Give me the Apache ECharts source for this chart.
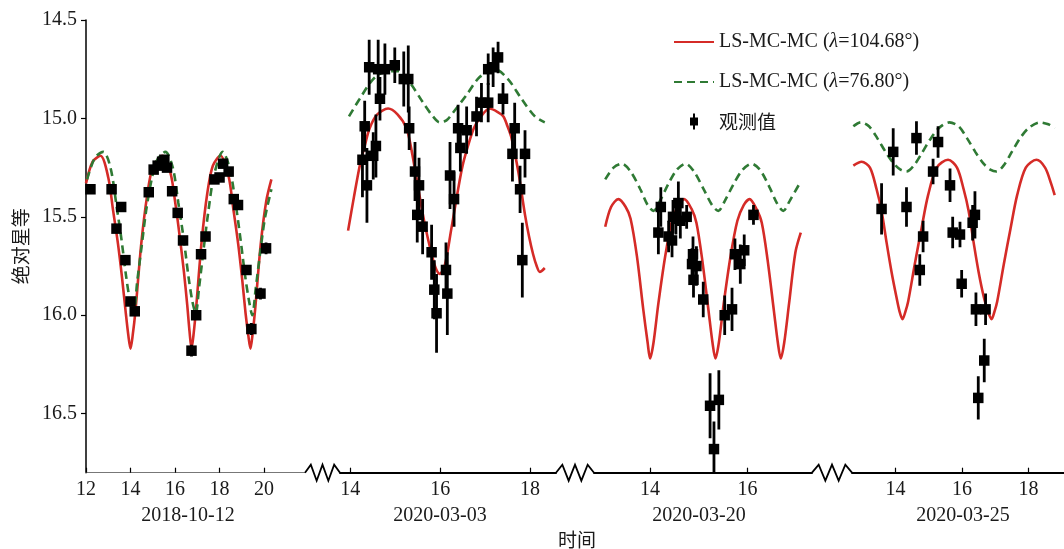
<!DOCTYPE html>
<html><head><meta charset="utf-8">
<script src="https://cdn.jsdelivr.net/npm/echarts@6/dist/echarts.min.js"></script>
<style>html,body{margin:0;padding:0;background:#fff}#c{width:1064px;height:549px}</style>
</head><body><div id="c"></div>
<script>
// ---------- data ----------
const PANEL_DATES = ['2018-10-12', '2020-03-03', '2020-03-20', '2020-03-25'];
const PANEL_TICKS = [[12, 14, 16, 18, 20], [14, 16, 18], [14, 16], [14, 16, 18]];
const PANEL_RANGES = [[12, 21.84], [13.77, 18.58], [12.85, 17.32], [12.69, 19.07]];
const Y_TICKS = [14.5, 15.0, 15.5, 16.0, 16.5];
const Y_RANGE = [14.5, 16.8];
const NAME_RED = 'LS-MC-MC (λ=104.68°)';
const NAME_GREEN = 'LS-MC-MC (λ=76.80°)';
const NAME_OBS = '观测值';
const X_NAME = '时间';
const Y_NAME = '绝对星等';

// model curve, λ=104.68°  [time(h), mag]
const RED_1 = [[12.0,15.33],[12.3,15.22],[12.65,15.19],[13.0,15.30],[13.22,15.47],[13.44,15.64],[13.62,15.81],[13.78,15.98],[13.9,16.10],[14.0,16.17],[14.1,16.10],[14.22,15.98],[14.48,15.64],[14.75,15.39],[15.0,15.25],[15.44,15.19],[15.8,15.28],[16.0,15.42],[16.2,15.59],[16.4,15.78],[16.55,15.95],[16.65,16.08],[16.74,16.17],[16.84,16.09],[16.95,15.96],[17.2,15.62],[17.45,15.38],[17.7,15.24],[18.04,15.19],[18.4,15.29],[18.62,15.46],[18.84,15.64],[19.02,15.82],[19.17,15.99],[19.29,16.10],[19.39,16.17],[19.49,16.09],[19.6,15.97],[19.85,15.64],[20.1,15.42],[20.33,15.31]];
const RED_2 = [[13.95,15.57],[14.08,15.40],[14.21,15.24],[14.32,15.14],[14.43,15.05],[14.6,14.98],[14.84,14.95],[15.05,14.98],[15.25,15.05],[15.37,15.17],[15.47,15.30],[15.57,15.43],[15.66,15.54],[15.81,15.69],[15.9,15.76],[15.99,15.79],[16.1,15.75],[16.25,15.56],[16.4,15.36],[16.5,15.24],[16.62,15.14],[16.75,15.05],[16.88,15.0],[17.1,14.95],[17.3,14.97],[17.41,14.99],[17.5,15.04],[17.59,15.10],[17.74,15.27],[17.89,15.49],[17.98,15.60],[18.07,15.69],[18.15,15.75],[18.22,15.78],[18.33,15.76]];
const RED_3 = [[13.08,15.55],[13.2,15.45],[13.35,15.41],[13.5,15.45],[13.6,15.51],[13.73,15.70],[13.86,15.97],[13.95,16.14],[14.0,16.22],[14.07,16.14],[14.17,15.94],[14.31,15.70],[14.45,15.52],[14.58,15.44],[14.70,15.41],[14.85,15.46],[14.95,15.53],[15.07,15.72],[15.2,15.98],[15.28,16.14],[15.34,16.22],[15.41,16.14],[15.51,15.94],[15.65,15.70],[15.79,15.52],[15.92,15.44],[16.04,15.41],[16.18,15.46],[16.29,15.53],[16.41,15.72],[16.54,15.98],[16.62,16.14],[16.68,16.22],[16.75,16.14],[16.85,15.94],[16.98,15.68],[17.09,15.58]];
const RED_4 = [[12.73,15.24],[12.98,15.22],[13.23,15.25],[13.43,15.36],[13.58,15.47],[13.73,15.63],[13.88,15.78],[14.03,15.91],[14.12,15.98],[14.21,16.02],[14.3,15.98],[14.38,15.93],[14.58,15.74],[14.78,15.56],[14.98,15.39],[15.24,15.25],[15.58,15.21],[15.85,15.25],[16.05,15.36],[16.2,15.47],[16.35,15.63],[16.5,15.78],[16.66,15.91],[16.78,15.98],[16.89,16.02],[16.98,15.98],[17.06,15.93],[17.26,15.74],[17.46,15.56],[17.66,15.39],[17.92,15.25],[18.24,15.21],[18.5,15.25],[18.68,15.33],[18.79,15.39]];

// model curve, λ=76.80°
const GREEN_1 = [[12.05,15.31],[12.4,15.20],[12.78,15.17],[13.1,15.25],[13.38,15.45],[13.6,15.62],[13.8,15.80],[13.98,15.93],[14.14,15.99],[14.3,15.83],[14.5,15.65],[14.7,15.47],[14.95,15.31],[15.2,15.21],[15.57,15.17],[15.9,15.25],[16.15,15.43],[16.4,15.62],[16.6,15.80],[16.78,15.93],[16.93,15.99],[17.08,15.86],[17.3,15.65],[17.5,15.47],[17.75,15.29],[18.14,15.17],[18.45,15.25],[18.72,15.43],[18.95,15.62],[19.15,15.80],[19.33,15.93],[19.47,16.0],[19.62,15.87],[19.85,15.66],[20.05,15.50],[20.33,15.36]];
const GREEN_2 = [[13.97,14.99],[14.21,14.90],[14.51,14.80],[14.81,14.76],[15.07,14.76],[15.33,14.82],[15.62,14.92],[15.84,14.99],[15.99,15.02],[16.14,15.01],[16.29,14.97],[16.59,14.88],[16.88,14.79],[17.22,14.75],[17.51,14.80],[17.81,14.90],[18.11,14.99],[18.33,15.02]];
const GREEN_3 = [[13.08,15.31],[13.25,15.25],[13.42,15.23],[13.6,15.27],[13.8,15.36],[13.95,15.44],[14.07,15.47],[14.2,15.42],[14.38,15.33],[14.55,15.26],[14.73,15.23],[14.9,15.27],[15.1,15.36],[15.27,15.44],[15.4,15.47],[15.53,15.42],[15.72,15.33],[15.9,15.26],[16.08,15.23],[16.25,15.26],[16.45,15.35],[16.6,15.43],[16.73,15.47],[16.86,15.42],[17.09,15.32]];
const GREEN_4 = [[12.73,15.04],[12.95,15.02],[13.2,15.04],[13.45,15.10],[13.7,15.17],[13.95,15.23],[14.15,15.26],[14.33,15.27],[14.55,15.24],[14.78,15.18],[15.03,15.11],[15.3,15.05],[15.62,15.02],[15.9,15.04],[16.15,15.10],[16.4,15.17],[16.65,15.23],[16.85,15.26],[17.04,15.27],[17.25,15.24],[17.5,15.17],[17.75,15.10],[18.0,15.05],[18.34,15.02],[18.6,15.03],[18.79,15.05]];

// observations [time(h), mag, error]
const OBS_1 = [[12.2,15.36,0.02],[13.15,15.36,0.02],[13.37,15.56,0.02],[13.58,15.45,0.02],[13.77,15.72,0.02],[14.0,15.93,0.02],[14.19,15.98,0.02],[14.82,15.375,0.02],[15.04,15.26,0.02],[15.22,15.24,0.02],[15.42,15.22,0.02],[15.52,15.21,0.02],[15.64,15.25,0.02],[15.87,15.37,0.02],[16.12,15.48,0.02],[16.36,15.62,0.02],[16.74,16.18,0.03],[16.95,16.0,0.02],[17.17,15.69,0.02],[17.37,15.60,0.02],[17.77,15.31,0.02],[18.0,15.30,0.02],[18.16,15.23,0.02],[18.41,15.27,0.02],[18.64,15.41,0.02],[18.83,15.44,0.02],[19.21,15.77,0.02],[19.43,16.07,0.03],[19.84,15.89,0.03],[20.09,15.66,0.03]];
const OBS_2 = [[14.32,15.04,0.13],[14.27,15.21,0.19],[14.37,15.34,0.19],[14.42,14.74,0.14],[14.57,15.14,0.16],[14.51,15.19,0.12],[14.62,14.75,0.15],[14.66,14.90,0.11],[14.77,14.75,0.13],[14.99,14.73,0.09],[15.19,14.80,0.14],[15.29,14.80,0.17],[15.31,15.05,0.11],[15.44,15.27,0.15],[15.53,15.34,0.14],[15.49,15.49,0.14],[15.61,15.55,0.14],[15.81,15.68,0.14],[15.87,15.87,0.15],[15.92,15.99,0.20],[16.13,15.77,0.14],[16.16,15.89,0.21],[16.22,15.29,0.17],[16.31,15.41,0.14],[16.40,15.05,0.12],[16.45,15.15,0.12],[16.59,15.06,0.12],[16.81,14.99,0.10],[16.92,14.92,0.10],[17.07,14.92,0.10],[17.07,14.75,0.08],[17.18,14.74,0.10],[17.29,14.69,0.08],[17.40,14.90,0.08],[17.61,15.18,0.14],[17.66,15.05,0.13],[17.78,15.36,0.12],[17.89,15.18,0.12],[17.83,15.72,0.19]];
const OBS_3 = [[14.22,15.45,0.10],[14.17,15.58,0.11],[14.38,15.60,0.08],[14.45,15.62,0.085],[14.47,15.50,0.085],[14.58,15.43,0.11],[14.62,15.52,0.09],[14.75,15.50,0.06],[14.53,15.51,0.08],[14.88,15.69,0.09],[14.86,15.74,0.08],[14.95,15.75,0.10],[14.89,15.82,0.09],[15.09,15.92,0.09],[15.23,16.46,0.165],[15.31,16.68,0.14],[15.41,16.43,0.15],[15.53,16.0,0.10],[15.68,15.97,0.11],[15.74,15.69,0.08],[15.85,15.74,0.10],[15.93,15.67,0.08],[16.12,15.49,0.05]];
const OBS_4 = [[13.58,15.46,0.13],[13.93,15.17,0.12],[14.33,15.45,0.10],[14.63,15.10,0.085],[14.83,15.60,0.08],[14.73,15.77,0.08],[15.13,15.27,0.065],[15.28,15.12,0.08],[15.64,15.34,0.085],[15.72,15.58,0.08],[15.94,15.59,0.065],[15.99,15.84,0.07],[16.32,15.53,0.09],[16.39,15.49,0.12],[16.42,15.97,0.085],[16.71,15.97,0.08],[16.67,16.23,0.11],[16.49,16.42,0.11]];

const REDS = [RED_1, RED_2, RED_3, RED_4];
const GREENS = [GREEN_1, GREEN_2, GREEN_3, GREEN_4];
const OBS = [OBS_1, OBS_2, OBS_3, OBS_4];

// ---------- layout / styles ----------
const GRID_TOP = 20, GRID_BOTTOM = 76.3;
const GRID_BOXES = [[86, 219], [340, 216], [594, 218], [852, 212]]; // left, width
const NAME_PAD = [[0, 15, 0, 0], [0, 16, 0, 0], [0, 8, 0, 0], [0, 0, 0, 10]];
const SERIF = '"Liberation Serif", "Times New Roman", serif';
const CJK = '"Noto Sans CJK SC", sans-serif';
const TXT = '#1a1a1a';
const RED = '#d52b27';
const GREEN = '#2f7a34';

const chart = echarts.init(document.getElementById('c'), null, {renderer: 'canvas'});

const grids = [], xAxes = [], yAxes = [], series = [];
GRID_BOXES.forEach((b, i) => {
  grids.push({left: b[0], width: b[1], top: GRID_TOP, bottom: GRID_BOTTOM, containLabel: false});
  xAxes.push({
    type: 'value', gridIndex: i, min: PANEL_RANGES[i][0], max: PANEL_RANGES[i][1],
    name: PANEL_DATES[i], nameLocation: 'middle', nameGap: 33,
    nameTextStyle: {fontFamily: SERIF, fontSize: 20, color: TXT, padding: NAME_PAD[i]},
    axisLine: {show: true, onZero: false, lineStyle: {color: i === 0 ? '#777' : '#000', width: i === 0 ? 1.2 : 2}},
    axisTick: {show: true, inside: true, length: 5, customValues: PANEL_TICKS[i], lineStyle: {color: '#000', width: 1.2}},
    axisLabel: {show: true, margin: 7, customValues: PANEL_TICKS[i], fontFamily: SERIF, fontSize: 20, color: TXT},
    splitLine: {show: false}
  });
  yAxes.push({
    type: 'value', gridIndex: i, min: Y_RANGE[0], max: Y_RANGE[1], inverse: true, show: i === 0,
    name: i === 0 ? Y_NAME : '', nameLocation: 'middle', nameGap: 56, nameRotate: 90,
    nameTextStyle: {fontFamily: CJK, fontSize: 19, color: TXT},
    axisLine: {show: true, lineStyle: {color: '#000', width: 1.5}},
    axisTick: {show: true, inside: false, length: 5, customValues: Y_TICKS, lineStyle: {color: '#000', width: 1.2}},
    axisLabel: {show: true, margin: 9, customValues: Y_TICKS, fontFamily: SERIF, fontSize: 20, color: TXT,
      formatter: v => Number(v).toFixed(1)},
    splitLine: {show: false}
  });
  series.push({
    name: NAME_RED, type: 'line', xAxisIndex: i, yAxisIndex: i, data: REDS[i],
    symbol: 'none', smooth: 0.3, lineStyle: {color: RED, width: 2.6}, itemStyle: {color: RED}, z: 2
  });
  series.push({
    name: NAME_GREEN, type: 'line', xAxisIndex: i, yAxisIndex: i, data: GREENS[i],
    symbol: 'none', smooth: 0.3, lineStyle: {color: GREEN, width: 2.6, type: [8, 5]}, itemStyle: {color: GREEN}, z: 2
  });
  series.push({
    name: 'errorbar', type: 'custom', xAxisIndex: i, yAxisIndex: i, data: OBS[i],
    encode: {x: 0, y: 1}, clip: true, z: 3,
    renderItem: function (params, api) {
      const t = api.value(0), v = api.value(1), e = api.value(2);
      const p1 = api.coord([t, v - e]), p2 = api.coord([t, v + e]);
      return {type: 'line', shape: {x1: p1[0], y1: p1[1], x2: p2[0], y2: p2[1]},
        style: {stroke: '#000', lineWidth: 2.8}};
    }
  });
  series.push({
    name: NAME_OBS, type: 'scatter', xAxisIndex: i, yAxisIndex: i, data: OBS[i].map(d => [d[0], d[1]]),
    symbol: 'rect', symbolSize: 10.5, itemStyle: {color: '#000', opacity: 1}, z: 4
  });
});

// axis-break zigzags between panels (decoration)
const graphics = [];
const axisY = 549 - GRID_BOTTOM;
for (let i = 0; i < 3; i++) {
  const x0 = GRID_BOXES[i][0] + GRID_BOXES[i][1];
  const x1 = GRID_BOXES[i + 1][0];
  const w = x1 - x0;
  const pts = [[x0, axisY]];
  const n = 6;
  for (let k = 1; k < n; k++) pts.push([x0 + w * (k / n), axisY + (k % 2 ? -8 : 8)]);
  pts.push([x1, axisY]);
  graphics.push({type: 'polyline', shape: {points: pts}, style: {stroke: '#000', lineWidth: 1.8, fill: null}, z: 10});
}
graphics.push({type: 'text', x: 577, y: 540, z: 10,
  style: {text: X_NAME, align: 'center', verticalAlign: 'middle', font: '19px ' + CJK, fill: TXT}});

function legendLabel(name) {
  if (name.indexOf('λ') >= 0) {
    const parts = name.split('λ');
    return '{t|' + parts[0] + '}{i|λ}{t|' + parts[1] + '}';
  }
  return '{c|' + name + '}';
}

chart.setOption({
  backgroundColor: '#fff',
  animation: false,
  grid: grids, xAxis: xAxes, yAxis: yAxes, series: series,
  graphic: graphics,
  legend: {
    orient: 'vertical', left: 668, top: 27, itemWidth: 40, itemHeight: 16, itemGap: 20,
    data: [
      {name: NAME_RED, itemStyle: {opacity: 0}},
      {name: NAME_GREEN, itemStyle: {opacity: 0}},
      {name: NAME_OBS, icon: 'path://M3,0L5,0L5,4L8,4L8,12L5,12L5,16L3,16L3,12L0,12L0,4L3,4Z', itemStyle: {opacity: 1}}
    ],
    formatter: legendLabel,
    textStyle: {color: TXT, padding: [0, 0, 0, 0], rich: {
      t: {fontFamily: SERIF, fontSize: 20, color: TXT},
      i: {fontFamily: SERIF, fontSize: 20, fontStyle: 'italic', color: TXT},
      c: {fontFamily: CJK, fontSize: 19, color: TXT}
    }}
  }
});
</script></body></html>
